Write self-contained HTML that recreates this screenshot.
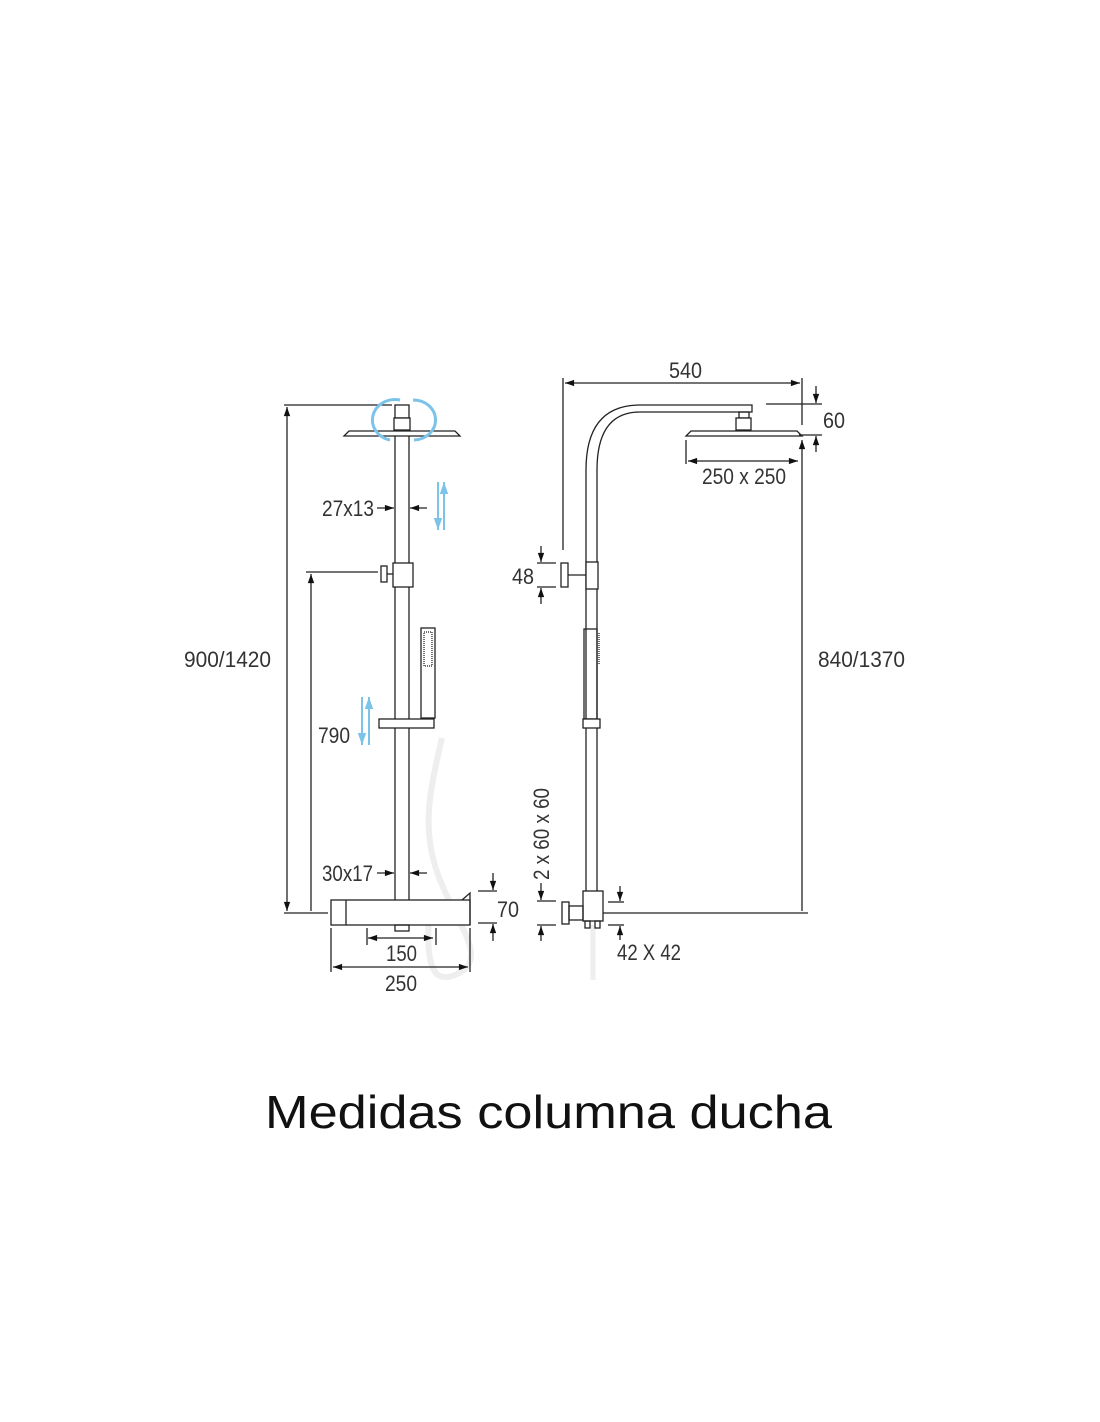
<!DOCTYPE html>
<html><head><meta charset="utf-8"><style>
html,body{margin:0;padding:0;background:#fff;width:1100px;height:1422px;overflow:hidden}
svg{display:block}
text{font-family:"Liberation Sans",sans-serif;fill:#333;font-size:22px}
</style></head><body>
<svg width="1100" height="1422" viewBox="0 0 1100 1422" xmlns="http://www.w3.org/2000/svg">
<defs>
<marker id="a" viewBox="0 0 10 10" refX="10" refY="5" markerWidth="11" markerHeight="7" orient="auto-start-reverse"><path d="M0,1.5L10,5L0,8.5z" fill="#111"/></marker>
<marker id="b" viewBox="0 0 10 10" refX="10" refY="5" markerWidth="8" markerHeight="6" orient="auto-start-reverse"><path d="M0,1.5L10,5L0,8.5z" fill="#7cc3ea"/></marker>
</defs>
<g stroke="#222" stroke-width="1.3" fill="none">
<!-- LEFT -->
<path d="M442 738 C430 790 420 830 440 880 C460 930 490 960 455 975 C430 985 425 960 430 900" stroke="#eee" stroke-width="6"/>
<line x1="284" y1="405" x2="392" y2="405"/>
<line x1="287" y1="407" x2="287" y2="911" marker-start="url(#a)" marker-end="url(#a)"/>
<line x1="284" y1="913" x2="328" y2="913"/>
<line x1="306" y1="572" x2="378" y2="572"/>
<line x1="311" y1="574" x2="311" y2="911" marker-start="url(#a)"/>
<rect x="395" y="405" width="14" height="13" fill="#fff"/>
<rect x="394" y="418" width="16" height="12" fill="#fff"/>
<path d="M344 436 L460 436 L455 431 L349 431 Z" fill="#fff"/>
<line x1="395" y1="436" x2="395" y2="900"/><line x1="409" y1="436" x2="409" y2="900"/>
<rect x="393" y="563" width="20" height="24" fill="#fff"/>
<rect x="381" y="566" width="6" height="16" fill="#fff"/><line x1="387" y1="574" x2="393" y2="574"/>
<rect x="421" y="628" width="14" height="90" fill="#fff"/>
<rect x="424" y="632" width="8" height="34" stroke-dasharray="1 1"/>
<rect x="379" y="719" width="55" height="9" fill="#fff"/>
<rect x="331" y="900" width="139" height="25" fill="#fff"/>
<line x1="346" y1="900" x2="346" y2="925"/>
<path d="M462 900 L470 893 L470 925" />
<rect x="395" y="925" width="14" height="6"/>
<line x1="368" y1="938" x2="433" y2="938" marker-start="url(#a)" marker-end="url(#a)"/>
<line x1="367" y1="928" x2="367" y2="945"/><line x1="436" y1="928" x2="436" y2="945"/>
<line x1="331" y1="928" x2="331" y2="972"/><line x1="470" y1="928" x2="470" y2="972"/>
<line x1="333" y1="967" x2="468" y2="967" marker-start="url(#a)" marker-end="url(#a)"/>
<line x1="478" y1="891" x2="497" y2="891"/><line x1="478" y1="923" x2="497" y2="923"/>
<line x1="493" y1="873" x2="493" y2="890" marker-end="url(#a)"/>
<line x1="493" y1="941" x2="493" y2="924" marker-end="url(#a)"/>
<line x1="377" y1="508" x2="394" y2="508" marker-end="url(#a)"/>
<line x1="427" y1="508" x2="410" y2="508" marker-end="url(#a)"/>
<line x1="377" y1="873" x2="394" y2="873" marker-end="url(#a)"/>
<line x1="427" y1="873" x2="410" y2="873" marker-end="url(#a)"/>
<g stroke="#7cc3ea" stroke-width="2">
<line x1="438" y1="482" x2="438" y2="530" marker-end="url(#b)"/>
<line x1="444" y1="530" x2="444" y2="482" marker-end="url(#b)"/>
<line x1="362" y1="697" x2="362" y2="745" marker-end="url(#b)"/>
<line x1="369" y1="745" x2="369" y2="697" marker-end="url(#b)"/>
<path d="M390 440 A22 20 0 0 1 400 400" stroke-width="3"/>
<path d="M413 400 A22 20 0 0 1 414 440" stroke-width="3"/>
</g>
<!-- RIGHT -->
<line x1="593" y1="925" x2="593" y2="980" stroke="#eee" stroke-width="5"/>
<line x1="565" y1="383" x2="800" y2="383" marker-start="url(#a)" marker-end="url(#a)"/>
<line x1="563" y1="378" x2="563" y2="550"/>
<line x1="802" y1="378" x2="802" y2="425"/>
<path d="M586 900 L586 470 Q586 405 640 405 L752 405 L752 412 L640 412 Q597 412 597 470 L597 900"/>
<rect x="739" y="412" width="10" height="6"/><rect x="736" y="418" width="15" height="12" fill="#fff"/>
<path d="M686 436 L802 436 L797 431 L691 431 Z" fill="#fff"/>
<line x1="686" y1="440" x2="686" y2="464"/>
<line x1="688" y1="461" x2="798" y2="461" marker-start="url(#a)" marker-end="url(#a)"/>
<line x1="802" y1="440" x2="802" y2="911" marker-start="url(#a)"/>
<line x1="600" y1="913" x2="808" y2="913"/>
<line x1="766" y1="404" x2="822" y2="404"/>
<line x1="799" y1="435" x2="822" y2="435"/>
<line x1="816" y1="386" x2="816" y2="403" marker-end="url(#a)"/>
<line x1="816" y1="452" x2="816" y2="436" marker-end="url(#a)"/>
<rect x="586" y="562" width="12" height="27" fill="#fff"/>
<rect x="561" y="563" width="7" height="24" fill="#fff"/><line x1="568" y1="575" x2="586" y2="575"/>
<line x1="537" y1="563" x2="556" y2="563"/><line x1="537" y1="587" x2="556" y2="587"/>
<line x1="541" y1="546" x2="541" y2="562" marker-end="url(#a)"/>
<line x1="541" y1="604" x2="541" y2="588" marker-end="url(#a)"/>
<rect x="584" y="629" width="13" height="90"/>
<line x1="599" y1="633" x2="599" y2="665" stroke-dasharray="1 1"/>
<rect x="583" y="719" width="17" height="9" fill="#fff"/>
<rect x="583" y="891" width="20" height="30" fill="#fff"/>
<rect x="562" y="902" width="7" height="22" fill="#fff"/><rect x="569" y="906" width="14" height="14"/>
<rect x="585" y="921" width="5" height="7"/><rect x="595" y="921" width="5" height="7"/>
<line x1="537" y1="901" x2="556" y2="901"/><line x1="537" y1="925" x2="556" y2="925"/>
<line x1="541" y1="883" x2="541" y2="900" marker-end="url(#a)"/>
<line x1="541" y1="941" x2="541" y2="926" marker-end="url(#a)"/>
<line x1="608" y1="902" x2="624" y2="902"/><line x1="608" y1="925" x2="624" y2="925"/>
<line x1="620" y1="886" x2="620" y2="901" marker-end="url(#a)"/>
<line x1="620" y1="940" x2="620" y2="926" marker-end="url(#a)"/>
</g>
<g>
<text x="322" y="516" textLength="52" lengthAdjust="spacingAndGlyphs">27x13</text>
<text x="322" y="881" textLength="51" lengthAdjust="spacingAndGlyphs">30x17</text>
<text x="184" y="667" textLength="87" lengthAdjust="spacingAndGlyphs">900/1420</text>
<text x="318" y="743" textLength="32" lengthAdjust="spacingAndGlyphs">790</text>
<text x="497" y="917" textLength="22" lengthAdjust="spacingAndGlyphs">70</text>
<text x="386" y="961" textLength="31" lengthAdjust="spacingAndGlyphs">150</text>
<text x="385" y="991" textLength="32" lengthAdjust="spacingAndGlyphs">250</text>
<text x="669" y="378" textLength="33" lengthAdjust="spacingAndGlyphs">540</text>
<text x="823" y="428" textLength="22" lengthAdjust="spacingAndGlyphs">60</text>
<text x="702" y="484" textLength="84" lengthAdjust="spacingAndGlyphs">250 x 250</text>
<text x="512" y="584" textLength="22" lengthAdjust="spacingAndGlyphs">48</text>
<text x="818" y="667" textLength="87" lengthAdjust="spacingAndGlyphs">840/1370</text>
<text x="617" y="960" textLength="64" lengthAdjust="spacingAndGlyphs">42 X 42</text>
<text transform="translate(549,880) rotate(-90)" textLength="92" lengthAdjust="spacingAndGlyphs">2 x 60 x 60</text>
<text x="265" y="1128" textLength="567" lengthAdjust="spacingAndGlyphs" style="font-size:46px;fill:#111">Medidas columna ducha</text>
</g>
</svg>
</body></html>
